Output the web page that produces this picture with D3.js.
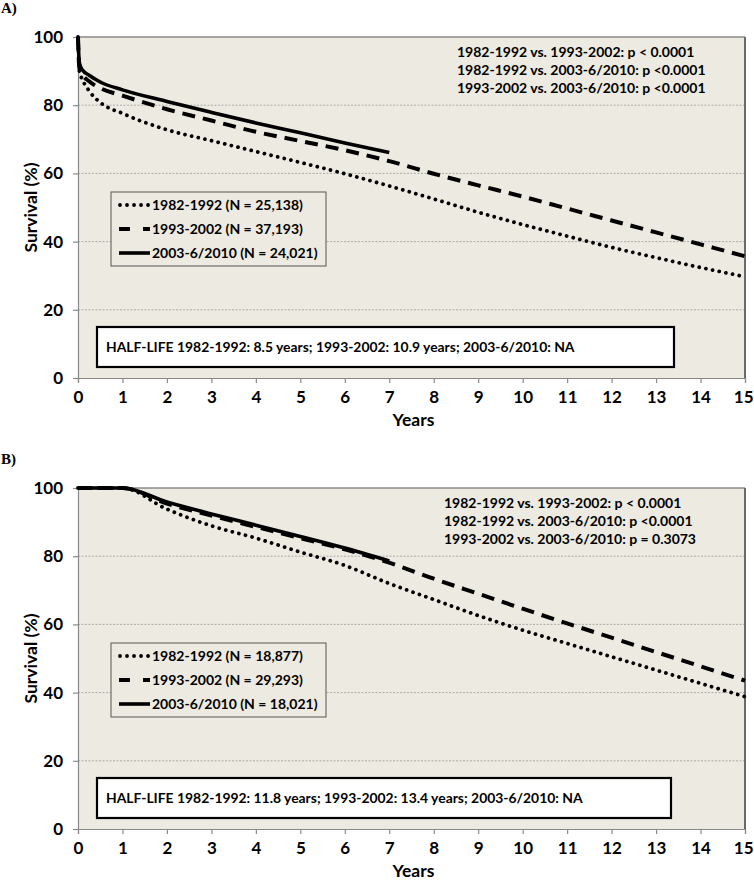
<!DOCTYPE html>
<html><head><meta charset="utf-8">
<script src="https://cdn.jsdelivr.net/npm/d3@7"></script>
<style>body{margin:0;background:#fff}svg{display:block}</style>
</head><body>
<svg id="chart" width="754" height="882"></svg>
<script>
// ---------- DATA ----------
const seriesNames = ["1982-1992", "1993-2002", "2003-6/2010"];
const xTicks = [0,1,2,3,4,5,6,7,8,9,10,11,12,13,14,15];
const yTicks = [0,20,40,60,80,100];

// Panel A
const yearsA = [0,0.03,0.1,0.25,0.5,1,2,3,4,5,6,7,8,9,10,11,12,13,14,15];
const a1982 = [100,90,87.5,84.2,80.8,77.6,72.8,69.6,66.4,63.2,59.9,56.3,52.5,48.6,45.0,41.6,38.3,35.3,32.4,29.7];
const a1993 = [100,91,89,87,85,82.8,78.8,75.5,72.2,69.5,66.8,63.6,59.9,56.5,53.2,49.7,46.2,42.7,39.2,35.7];
const a2003 = [100,92.5,90.3,88.8,86.8,84.5,81.1,77.9,74.8,71.9,68.9,66.1];
const legendA = ["1982-1992 (N = 25,138)", "1993-2002 (N = 37,193)", "2003-6/2010 (N = 24,021)"];
const pvalsA = ["1982-1992 vs. 1993-2002: p < 0.0001", "1982-1992 vs. 2003-6/2010: p <0.0001", "1993-2002 vs. 2003-6/2010: p <0.0001"];
const halfLifeA = "HALF-LIFE 1982-1992: 8.5 years; 1993-2002: 10.9 years; 2003-6/2010: NA";

// Panel B
const yearsB = [0,1,2,3,4,5,6,7,8,9,10,11,12,13,14,15];
const b1982 = [100,100,93.8,88.9,85.3,81.2,77.3,72.0,67.3,62.6,58.3,54.4,50.5,46.6,42.7,38.8];
const b1993 = [100,100,95.4,91.9,88.6,85.3,82.0,78.1,73.4,69.0,64.6,60.3,56.1,51.9,47.7,43.5];
const b2003 = [100,100,95.9,92.4,89.1,85.8,82.4,78.6];
const legendB = ["1982-1992 (N = 18,877)", "1993-2002 (N = 29,293)", "2003-6/2010 (N = 18,021)"];
const pvalsB = ["1982-1992 vs. 1993-2002: p < 0.0001", "1982-1992 vs. 2003-6/2010: p <0.0001", "1993-2002 vs. 2003-6/2010: p = 0.3073"];
const halfLifeB = "HALF-LIFE 1982-1992: 11.8 years; 1993-2002: 13.4 years; 2003-6/2010: NA";

// ---------- DRAW ----------
const svg = d3.select("#chart");
const FONT = "Lato, 'Open Sans', sans-serif";
const BG = "#EDEAE1";
const styles = [
  {w:3.8, dash:"0.01 6.8", cap:"round"},
  {w:4, dash:"13 8", cap:"butt"},
  {w:3.6, dash:null, cap:"butt"}
];

function panel(opt) {
  const L = 78, R = 745, T = opt.top, B = opt.top + 341;
  const x = d3.scaleLinear().domain([0,15]).range([L,R]);
  const y = d3.scaleLinear().domain([0,100]).range([B,T]);
  const g = svg.append("g");

  g.append("text").attr("x",1).attr("y",T-24).attr("font-family","'Liberation Serif', serif")
    .attr("font-weight","bold").attr("font-size",15).text(opt.label);

  g.append("rect").attr("x",L).attr("y",T).attr("width",R-L).attr("height",B-T).attr("fill",BG);

  // gridlines
  g.selectAll(".grid").data(yTicks.filter(v=>v>0 && v<100)).join("line")
    .attr("x1",L).attr("x2",R).attr("y1",d=>y(d)).attr("y2",d=>y(d))
    .attr("stroke","#9a9a9a").attr("stroke-width",0.8).attr("stroke-dasharray","2 1.5");
  // top & right border
  g.append("line").attr("x1",L).attr("x2",R).attr("y1",T).attr("y2",T).attr("stroke","#8a8a8a").attr("stroke-width",1.5);
  g.append("line").attr("x1",R).attr("x2",R).attr("y1",T).attr("y2",B).attr("stroke","#6a6a6a").attr("stroke-width",2);

  // axes
  const yAx = g.append("g").attr("transform",`translate(${L},0)`)
    .call(d3.axisLeft(y).tickValues(yTicks).tickSize(5).tickPadding(10));
  const xAx = g.append("g").attr("transform",`translate(0,${B})`)
    .call(d3.axisBottom(x).tickValues(xTicks).tickSize(5).tickPadding(8));
  [yAx,xAx].forEach(a=>{
    a.select(".domain").attr("stroke","#8a8a8a").attr("stroke-width",1.2);
    a.selectAll(".tick line").attr("stroke","#8a8a8a").attr("stroke-width",1.2);
    a.selectAll(".tick text").attr("font-family",FONT).attr("font-weight","bold")
      .attr("font-size",17).attr("fill","#000");
  });
  xAx.selectAll(".tick text").filter(d=>d===15).attr("text-anchor","end").attr("dx",8);

  // axis titles
  g.append("text").attr("x",(L+R)/2+2).attr("y",B+48).attr("text-anchor","middle")
    .attr("font-family",FONT).attr("font-weight","bold").attr("font-size",17.5).text("Years");
  g.append("text").attr("transform",`translate(37,${(T+B)/2}) rotate(-90)`).attr("text-anchor","middle")
    .attr("font-family",FONT).attr("font-weight","bold").attr("font-size",17.5).text("Survival (%)");

  // curves
  const line = d3.line().x(d=>x(d[0])).y(d=>y(d[1])).curve(d3.curveMonotoneX);
  opt.series.forEach((s,i)=>{
    const pts = s.vals.map((v,j)=>[s.years[j],v]);
    const st = styles[i];
    g.append("path").datum(pts).attr("d",line).attr("fill","none").attr("stroke","#000")
      .attr("stroke-width",st.w).attr("stroke-linecap",st.cap).attr("stroke-linejoin","round")
      .attr("stroke-dasharray",st.dash);
  });

  // p-values
  opt.pvals.forEach((t,i)=>{
    g.append("text").attr("x",opt.pX).attr("y",T+20+i*18).attr("font-family",FONT)
      .attr("font-weight","bold").attr("font-size",14).text(t);
  });

  // legend
  const lx = 111, ly = T+155, lw = 215, lh = 74;
  g.append("rect").attr("x",lx).attr("y",ly).attr("width",lw).attr("height",lh)
    .attr("fill",BG).attr("stroke","#555").attr("stroke-width",1);
  opt.legend.forEach((t,i)=>{
    const cy = ly + 13 + i*24;
    const st = styles[i];
    if (i===1) {
      g.append("line").attr("x1",119).attr("x2",130).attr("y1",cy).attr("y2",cy).attr("stroke","#000").attr("stroke-width",st.w);
      g.append("line").attr("x1",143).attr("x2",150).attr("y1",cy).attr("y2",cy).attr("stroke","#000").attr("stroke-width",st.w);
    } else {
      g.append("line").attr("x1",i===0?120:119).attr("x2",150).attr("y1",cy).attr("y2",cy).attr("stroke","#000")
        .attr("stroke-width",st.w).attr("stroke-linecap",st.cap).attr("stroke-dasharray",i===0?"0.01 7":st.dash);
    }
    g.append("text").attr("x",152).attr("y",cy+5).attr("font-family",FONT)
      .attr("font-weight","bold").attr("font-size",14).text(t);
  });

  // half-life box
  g.append("rect").attr("x",97).attr("y",T+290).attr("width",opt.hlW).attr("height",40)
    .attr("fill","#fff").attr("stroke","#000").attr("stroke-width",2.2);
  g.append("text").attr("x",106).attr("y",T+315).attr("font-family",FONT)
    .attr("font-weight","bold").attr("font-size",13.9).text(opt.halfLife);
}

panel({label:"A)", top:37, pX:457, hlW:577, pvals:pvalsA, legend:legendA, halfLife:halfLifeA,
  series:[{years:yearsA, vals:a1982},{years:yearsA, vals:a1993},{years:yearsA.slice(0,a2003.length), vals:a2003}]});
panel({label:"B)", top:488, pX:444, hlW:574, pvals:pvalsB, legend:legendB, halfLife:halfLifeB,
  series:[{years:yearsB, vals:b1982},{years:yearsB, vals:b1993},{years:yearsB.slice(0,b2003.length), vals:b2003}]});
</script>
</body></html>
